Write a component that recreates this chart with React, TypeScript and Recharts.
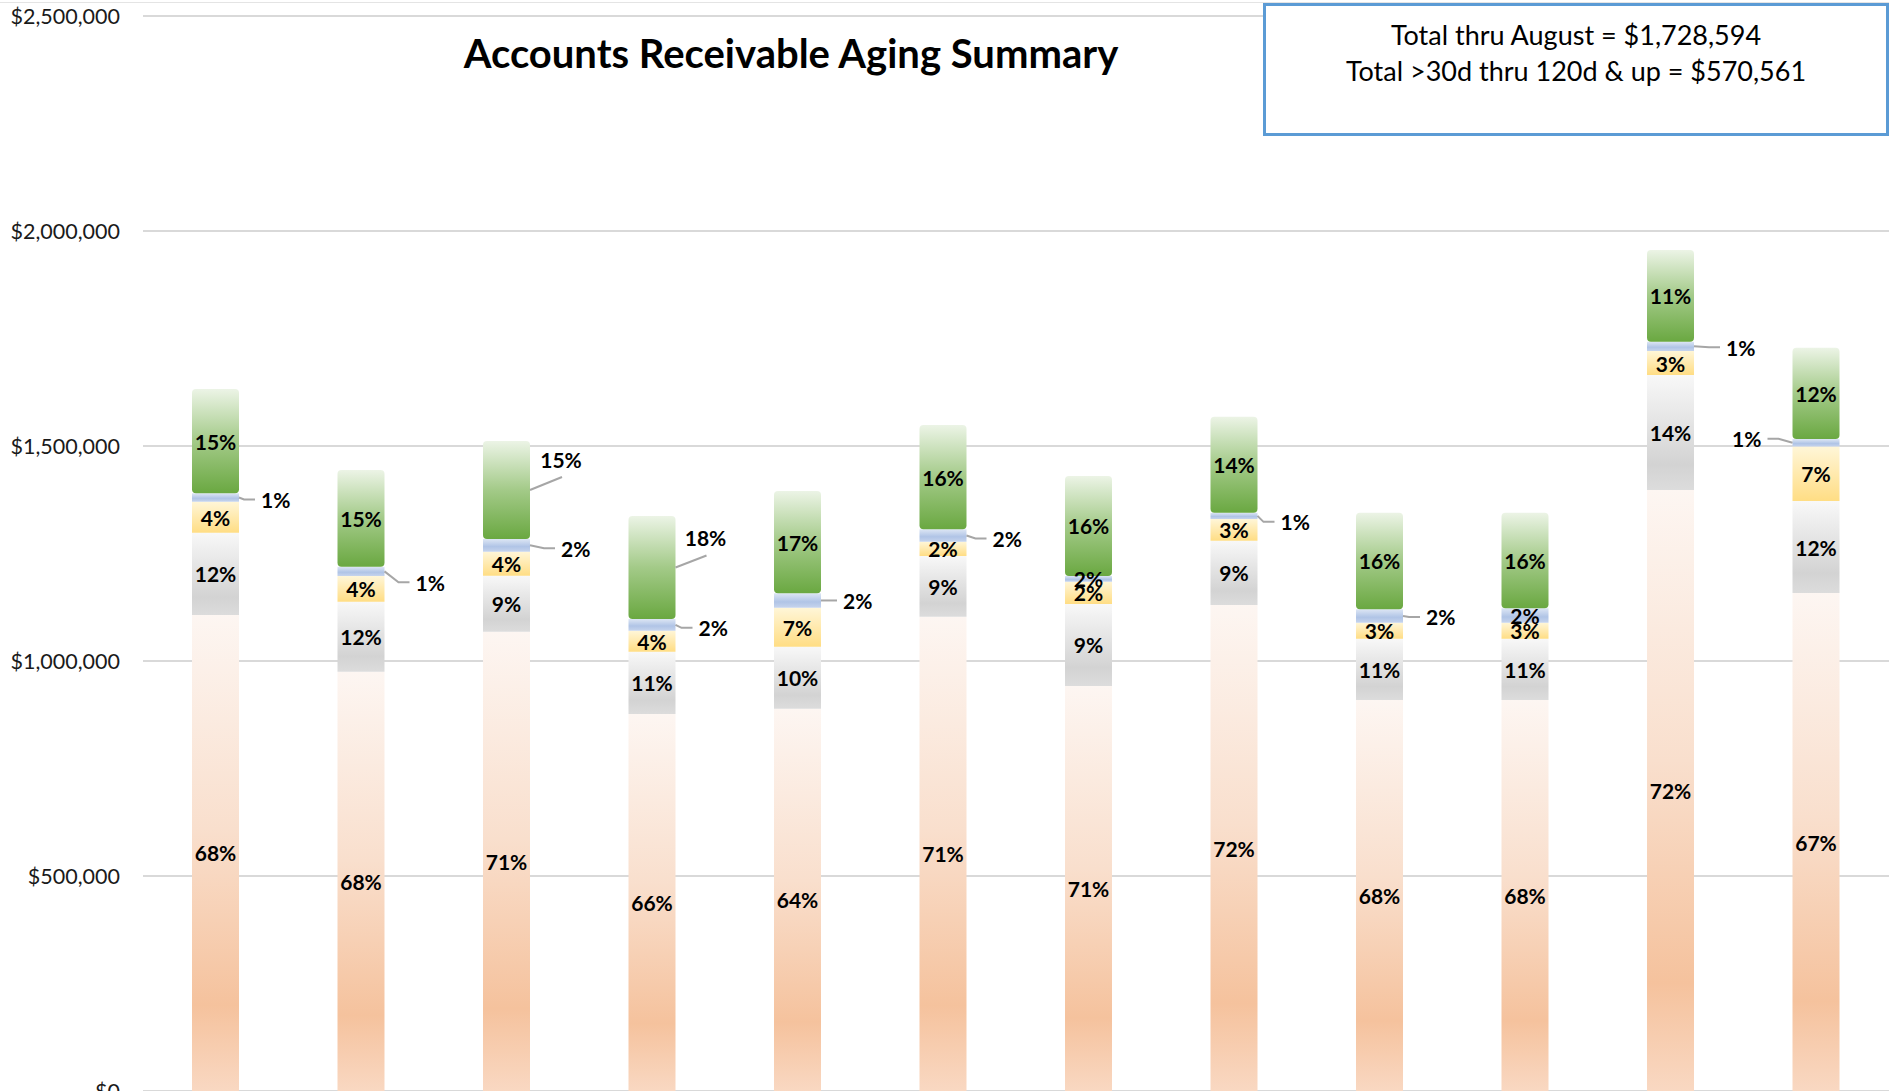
import { BarChart, Bar, XAxis, YAxis, CartesianGrid, LabelList } from 'recharts';

const months = ['Sep', 'Oct', 'Nov', 'Dec', 'Jan', 'Feb', 'Mar', 'Apr', 'May', 'Jun', 'Jul', 'Aug'];

// dollar amounts per aging bucket
const current = [1107000, 975100, 1068200, 876800, 889100, 1103000, 941900, 1130200, 909300, 909300, 1397700, 1158033];
const days30 = [191400, 162800, 130200, 144900, 144200, 141200, 190700, 149500, 142600, 142600, 267400, 213900];
const days60 = [72100, 59800, 55800, 48800, 90700, 33300, 51900, 50500, 37200, 37200, 55800, 126800];
const days90 = [19500, 21600, 29500, 27200, 33500, 28800, 13300, 14700, 31200, 33500, 21600, 17300];
const days120 = [242600, 224900, 227900, 239500, 237900, 242600, 232600, 223300, 224700, 222400, 213300, 212561];

// percentage labels as printed on the chart
const currentPct = ['68%', '68%', '71%', '66%', '64%', '71%', '71%', '72%', '68%', '68%', '72%', '67%'];
const days30Pct = ['12%', '12%', '9%', '11%', '10%', '9%', '9%', '9%', '11%', '11%', '14%', '12%'];
const days60Pct = ['4%', '4%', '4%', '4%', '7%', '2%', '2%', '3%', '3%', '3%', '3%', '7%'];
const days90Pct = ['1%', '1%', '2%', '2%', '2%', '2%', '2%', '1%', '2%', '2%', '1%', '1%'];
const days120Pct = ['15%', '15%', '15%', '18%', '17%', '16%', '16%', '14%', '16%', '16%', '11%', '12%'];

const yTicks = [0, 500000, 1000000, 1500000, 2000000, 2500000];

const data = months.map((m, i) => ({
  month: m,
  current: current[i],
  days30: days30[i],
  days60: days60[i],
  days90: days90[i],
  days120: days120[i],
  currentPct: currentPct[i],
  days30Pct: days30Pct[i],
  days60Pct: days60Pct[i],
  days90Pct: days90Pct[i],
  days120Pct: days120Pct[i],
}));

// labels that Excel pushed outside the bar with a leader line
const SMALL_OUT: Record<number, { dx: number; dy: number }> = {
  0: { dx: 22, dy: 2 },
  1: { dx: 31, dy: 11 },
  2: { dx: 31, dy: 3 },
  3: { dx: 23, dy: 3 },
  4: { dx: 22, dy: 0 },
  5: { dx: 26, dy: 3 },
  7: { dx: 23, dy: 6 },
  8: { dx: 23, dy: 1 },
  10: { dx: 32, dy: 1 },
  11: { dx: -31, dy: -4 },
};
const TOP_OUT: Record<number, { dx: number; dy: number }> = {
  2: { dx: 31, dy: -31 },
  3: { dx: 30, dy: -30 },
};

const FONT = 'Lato, "Open Sans", sans-serif';
const LEADER = '#a6a6a6';

function makeLabel(outside?: Record<number, { dx: number; dy: number }>, above = false) {
  return (props: any) => {
    const vb = props.viewBox ?? props;
    const x = Number(vb.x ?? props.x);
    const y = Number(vb.y ?? props.y);
    const w = Number(vb.width ?? props.width);
    const h = Number(vb.height ?? props.height);
    const idx = props.index;
    const txt = { fontFamily: FONT, fontWeight: 700, fontSize: 21, fill: '#000' };
    const cy = y + h / 2;
    const o = outside ? outside[idx] : undefined;
    if (!o) {
      return (
        <text x={x + w / 2} y={cy} textAnchor="middle" dominantBaseline="central" style={txt}>
          {props.value}
        </text>
      );
    }
    if (above) {
      const ax = x + w;
      return (
        <g>
          <line x1={ax} y1={cy} x2={ax + o.dx + 1} y2={cy + o.dy + 18} stroke={LEADER} strokeWidth={2} />
          <text x={ax + o.dx} y={cy + o.dy} textAnchor="middle" dominantBaseline="central" style={txt}>
            {props.value}
          </text>
        </g>
      );
    }
    const left = o.dx < 0;
    const ax = left ? x : x + w;
    const s = left ? -1 : 1;
    const pts = `${ax},${cy} ${ax + o.dx - s * 17},${cy + o.dy} ${ax + o.dx - s * 6},${cy + o.dy}`;
    return (
      <g>
        <polyline points={pts} fill="none" stroke={LEADER} strokeWidth={2} />
        <text
          x={ax + o.dx}
          y={cy + o.dy}
          textAnchor={left ? 'end' : 'start'}
          dominantBaseline="central"
          style={txt}
        >
          {props.value}
        </text>
      </g>
    );
  };
}

const fmtMoney = (v: number) => '$' + v.toLocaleString('en-US');

export default function App() {
  return (
    <div
      style={{
        position: 'fixed',
        left: 0,
        top: 0,
        width: 1889,
        height: 1091,
        overflow: 'hidden',
        background: '#fff',
      }}
    >
      <div style={{ position: 'absolute', left: 0, top: 2, width: 1889, height: 1, background: '#e4e4e4' }} />
      <BarChart
        width={1889}
        height={1120}
        data={data}
        margin={{ top: 16, right: 0, bottom: 29, left: 0 }}
        barSize={47}
      >
        <defs>
          <linearGradient id="gCur" x1="0" y1="0" x2="0" y2="1">
            <stop offset="0%" stopColor="#fdf6f2" />
            <stop offset="45%" stopColor="#f9dfcd" />
            <stop offset="82%" stopColor="#f5c29d" />
            <stop offset="100%" stopColor="#f9d8c2" />
          </linearGradient>
          <linearGradient id="g30" x1="0" y1="0" x2="0" y2="1">
            <stop offset="0%" stopColor="#f8f8f8" />
            <stop offset="78%" stopColor="#d3d3d3" />
            <stop offset="100%" stopColor="#dcdcdc" />
          </linearGradient>
          <linearGradient id="g60" x1="0" y1="0" x2="0" y2="1">
            <stop offset="0%" stopColor="#fff6d8" />
            <stop offset="100%" stopColor="#ffdd84" />
          </linearGradient>
          <linearGradient id="g90" x1="0" y1="0" x2="0" y2="1">
            <stop offset="0%" stopColor="#dde6f4" />
            <stop offset="60%" stopColor="#b0c4e6" />
            <stop offset="100%" stopColor="#c6d4ed" />
          </linearGradient>
          <linearGradient id="g120" x1="0" y1="0" x2="0" y2="1">
            <stop offset="0%" stopColor="#ecf4e6" />
            <stop offset="50%" stopColor="#a3ca88" />
            <stop offset="100%" stopColor="#6aa841" />
          </linearGradient>
        </defs>
        <CartesianGrid vertical={false} stroke="#d9d9d9" strokeWidth={2} />
        <XAxis dataKey="month" hide />
        <YAxis
          width={143}
          domain={[0, 2500000]}
          ticks={yTicks}
          tickFormatter={fmtMoney}
          axisLine={false}
          tickLine={false}
          tickSize={0}
          tickMargin={23}
          tick={{ fontFamily: FONT, fontSize: 21.5, fill: '#1a1a1a' }}
        />
        <Bar dataKey="current" stackId="a" fill="url(#gCur)" isAnimationActive={false}>
          <LabelList dataKey="currentPct" content={makeLabel()} />
        </Bar>
        <Bar dataKey="days30" stackId="a" fill="url(#g30)" isAnimationActive={false}>
          <LabelList dataKey="days30Pct" content={makeLabel()} />
        </Bar>
        <Bar dataKey="days60" stackId="a" fill="url(#g60)" isAnimationActive={false}>
          <LabelList dataKey="days60Pct" content={makeLabel()} />
        </Bar>
        <Bar dataKey="days90" stackId="a" fill="url(#g90)" isAnimationActive={false}>
          <LabelList dataKey="days90Pct" content={makeLabel(SMALL_OUT)} />
        </Bar>
        <Bar dataKey="days120" stackId="a" fill="url(#g120)" radius={4} isAnimationActive={false}>
          <LabelList dataKey="days120Pct" content={makeLabel(TOP_OUT, true)} />
        </Bar>
      </BarChart>
      <div
        style={{
          position: 'absolute',
          left: 0,
          top: 33,
          width: 1582,
          textAlign: 'center',
          fontFamily: FONT,
          fontWeight: 700,
          fontSize: 40,
          lineHeight: '40px',
          color: '#000',
        }}
      >
        Accounts Receivable Aging Summary
      </div>
      <div
        style={{
          position: 'absolute',
          left: 1263,
          top: 3,
          width: 626,
          height: 133,
          boxSizing: 'border-box',
          border: '3px solid #5b9bd5',
          background: '#fff',
          paddingTop: 11,
          textAlign: 'center',
          fontFamily: FONT,
          fontSize: 27,
          lineHeight: '36px',
          color: '#000',
        }}
      >
        <div>Total thru August = $1,728,594</div>
        <div>Total &gt;30d thru 120d &amp; up = $570,561</div>
      </div>
    </div>
  );
}
